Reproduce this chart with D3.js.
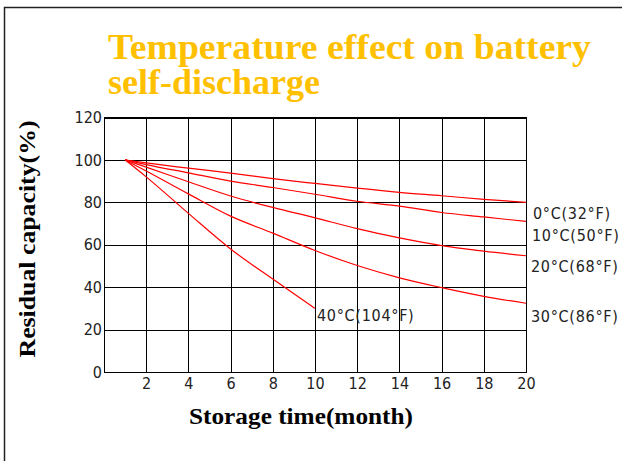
<!doctype html>
<html>
<head>
<meta charset="utf-8">
<script src="https://d3js.org/d3.v7.min.js"></script>
<style>
    body { margin: 0; background: #fff; }
    svg { display: block; }
</style>
</head>
<body>
<svg width="622" height="461" id="mainsvg"></svg>
<script>
    // storage time (month) and residual capacity (%)
    const months = [1, 2, 4, 6, 8, 10, 12, 14, 16, 18, 20];
    const months40 = [1, 2, 4, 6, 8, 10];
    const cap0 = [100, 98.6, 96.1, 93.8, 91.2, 88.9, 86.7, 84.7, 83.1, 81.4, 80];
    const cap10 = [100, 97.8, 93.9, 90, 87, 83.8, 80.5, 78.2, 75.2, 73.1, 71];
    const cap20 = [100, 96.6, 89.7, 83, 77.6, 72.7, 67.6, 63.2, 59.6, 57, 54.8];
    const cap30 = [100, 94.8, 84, 73.5, 65.5, 57.3, 50.2, 44.4, 39.8, 35.7, 32.4];
    const cap40 = [100, 92, 74.8, 58, 43.8, 30];
    const labels = ['0°C(32°F)', '10°C(50°F)', '20°C(68°F)', '30°C(86°F)', '40°C(104°F)'];
    const xTicks = [2, 4, 6, 8, 10, 12, 14, 16, 18, 20];
    const yTicks = [0, 20, 40, 60, 80, 100, 120];

    const svg = d3.select('svg');
    const tickFont = '"DejaVu Sans Condensed", "DejaVu Sans", sans-serif';

    // outer frame of the slide
    svg.append('rect')
        .attr('x', 4.5).attr('y', 7.5)
        .attr('width', 700).attr('height', 500)
        .attr('fill', 'none')
        .attr('stroke', '#222')
        .attr('stroke-width', 1.5);

    // title
    const title = svg.append('text')
        .attr('font-family', '"Liberation Serif", "Times New Roman", serif')
        .attr('font-weight', 'bold')
        .attr('font-size', 36)
        .attr('fill', '#ffc000');
    title.append('tspan').attr('x', 108).attr('y', 59).text('Temperature effect on battery')
        .attr('textLength', 483).attr('lengthAdjust', 'spacingAndGlyphs');
    title.append('tspan').attr('x', 108).attr('y', 94).text('self-discharge');

    const x = d3.scaleLinear().domain([0, 20]).range([104, 526]);
    const y = d3.scaleLinear().domain([0, 120]).range([372, 117.5]);

    // grid + x axis
    const gx = svg.append('g')
        .attr('transform', `translate(0, ${y(0)})`)
        .call(d3.axisBottom(x).tickValues(xTicks).tickSize(-(y(0) - y(120))).tickPadding(6));
    // grid + y axis
    const gy = svg.append('g')
        .attr('transform', `translate(${x(0)}, 0)`)
        .call(d3.axisLeft(y).tickValues(yTicks).tickSize(-(x(20) - x(0))).tickPadding(2));

    [gx, gy].forEach(g => {
        g.select('.domain').remove();
        g.selectAll('line').attr('stroke', '#000').attr('shape-rendering', 'crispEdges');
        g.selectAll('text')
            .attr('font-family', tickFont)
            .attr('font-size', 16)
            .attr('fill', '#222');
    });
    svg.append('rect')
        .attr('x', x(0)).attr('y', y(120))
        .attr('width', x(20) - x(0)).attr('height', y(0) - y(120))
        .attr('fill', 'none').attr('stroke', '#000')
        .attr('shape-rendering', 'crispEdges');

    // curves
    const series = [
        {m: months, v: cap0, label: labels[0], lx: 533, ly: 218.5},
        {m: months, v: cap10, label: labels[1], lx: 532, ly: 240.5},
        {m: months, v: cap20, label: labels[2], lx: 531, ly: 271.5},
        {m: months, v: cap30, label: labels[3], lx: 531, ly: 322},
        {m: months40, v: cap40, label: labels[4], lx: 317, ly: 321}
    ];
    const line = d3.line()
        .x(d => x(d[0]))
        .y(d => y(d[1]))
        .curve(d3.curveMonotoneX);

    series.forEach(s => {
        svg.append('path')
            .attr('d', line(s.m.map((mm, i) => [mm, s.v[i]])))
            .attr('fill', 'none')
            .attr('stroke', '#ff0000')
            .attr('stroke-width', 1.2);
        svg.append('text')
            .attr('x', s.lx).attr('y', s.ly)
            .attr('font-family', tickFont)
            .attr('font-size', 16)
            .attr('letter-spacing', 0.7)
            .attr('fill', '#222')
            .text(s.label);
    });

    // axis titles
    svg.append('text')
        .attr('x', 301).attr('y', 424)
        .attr('text-anchor', 'middle')
        .attr('font-family', '"Liberation Serif", "Times New Roman", serif')
        .attr('font-weight', 'bold')
        .attr('font-size', 24)
        .attr('textLength', 224).attr('lengthAdjust', 'spacingAndGlyphs')
        .text('Storage time(month)');

    svg.append('text')
        .attr('transform', 'translate(35, 239) rotate(-90)')
        .attr('text-anchor', 'middle')
        .attr('font-family', '"Liberation Serif", "Times New Roman", serif')
        .attr('font-weight', 'bold')
        .attr('font-size', 24)
        .attr('textLength', 237).attr('lengthAdjust', 'spacingAndGlyphs')
        .text('Residual capacity(%)');
</script>
</body>
</html>
